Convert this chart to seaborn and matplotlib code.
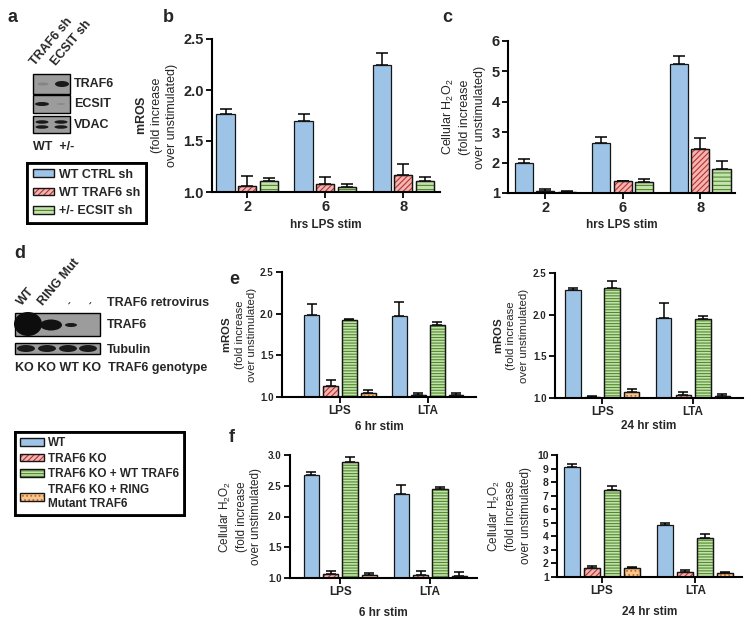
import matplotlib
matplotlib.use('Agg')
import matplotlib.pyplot as plt
import matplotlib.patches as mpatches
from matplotlib.legend_handler import HandlerTuple
import pandas as pd
import seaborn as sns

# ---- data ----
hrs = ['2', '6', '8']
sh_groups = ['WT CTRL sh', 'WT TRAF6 sh', '+/- ECSIT sh']
b_mean = [[1.76, 1.70, 2.25], [1.06, 1.08, 1.17], [1.11, 1.05, 1.11]]
b_err = [[0.05, 0.06, 0.11], [0.10, 0.07, 0.10], [0.03, 0.03, 0.04]]
c_mean = [[2.00, 2.65, 5.25], [1.07, 1.38, 2.45], [1.03, 1.35, 1.80]]
c_err = [[0.12, 0.18, 0.25], [0.05, 0.02, 0.35], [0.02, 0.10, 0.25]]

stims = ['LPS', 'LTA']
ko_groups = ['WT', 'TRAF6 KO', 'TRAF6 KO + WT TRAF6', 'TRAF6 KO + RING\nMutant TRAF6']
e6_mean = [[1.98, 1.97], [1.13, 1.03], [1.93, 1.87], [1.05, 1.02]]
e6_err = [[0.14, 0.17], [0.07, 0.02], [0.01, 0.03], [0.03, 0.03]]
e24_mean = [[2.30, 1.96], [1.01, 1.04], [2.32, 1.95], [1.07, 1.02]]
e24_err = [[0.02, 0.18], [0.02, 0.03], [0.08, 0.03], [0.04, 0.03]]
f6_mean = [[2.68, 2.36], [1.06, 1.05], [2.88, 2.44], [1.05, 1.04]]
f6_err = [[0.04, 0.15], [0.06, 0.06], [0.08, 0.04], [0.03, 0.05]]
f24_mean = [[9.15, 4.85], [1.70, 1.40], [7.45, 3.85], [1.65, 1.30]]
f24_err = [[0.20, 0.10], [0.10, 0.08], [0.25, 0.35], [0.08, 0.05]]

# (face, hatch colour, hatch)
blue = ('#9DC3E6', None, None)
red = ('#F2B5B2', '#B8312F', '//////')
green_b = ('#C5E2AE', '#4F8A2C', '----')
green_e = ('#C5E2AE', '#4F8A2C', '------')
orange = ('#F9C58E', '#B8702A', '....')
sh_styles = [blue, red, green_b]
ko_styles = [blue, red, green_e, orange]

sns.set_style('ticks')
plt.rcParams['font.family'] = ['Liberation Sans', 'DejaVu Sans']
plt.rcParams['mathtext.fontset'] = 'custom'
plt.rcParams['mathtext.rm'] = 'Liberation Sans'
plt.rcParams['mathtext.bf'] = 'Liberation Sans:bold'
plt.rcParams['mathtext.default'] = 'regular'
plt.rcParams['hatch.linewidth'] = 0.8

W, H = 750, 620
fig = plt.figure(figsize=(7.5, 6.2), dpi=100)

# background axes in pixel coordinates for blots and panel letters
bg = fig.add_axes([0, 0, 1, 1])
bg.set_xlim(0, W)
bg.set_ylim(H, 0)
bg.axis('off')


def px_axes(left, right, top, bottom):
    return fig.add_axes([left / W, 1 - bottom / H, (right - left) / W, (bottom - top) / H])


def bar_panel(ax, cats, groups, means, errs, styles, width, gap, ylim, yticks, fmt,
              ylabel, xlabel, xlim, tick_fs, xtick_fs, lab_fs, cap, xpad, ypad):
    rows = []
    for g, vals in zip(groups, means):
        for c, v in zip(cats, vals):
            rows.append({'cat': c, 'group': g, 'value': v})
    df = pd.DataFrame(rows)
    sns.barplot(data=df, x='cat', y='value', hue='group', order=cats, hue_order=groups,
                palette=[s[0] for s in styles], saturation=1, width=width, gap=gap,
                errorbar=None, edgecolor='#151515', linewidth=0.9, legend=False, ax=ax)
    for cont, err, (fc, hc, hatch) in zip(ax.containers, errs, styles):
        for bar, e in zip(cont, err):
            x0, w, h = bar.get_x(), bar.get_width(), bar.get_height()
            if hatch:
                ax.add_patch(mpatches.Rectangle((x0, 0), w, h, fill=False, hatch=hatch,
                                                edgecolor=hc, lw=0, zorder=1.1))
                ax.add_patch(mpatches.Rectangle((x0, 0), w, h, fill=False,
                                                edgecolor='#151515', lw=0.9, zorder=1.2))
            ax.errorbar(x0 + w / 2, h, yerr=[[0], [e]], fmt='none', ecolor='black',
                        elinewidth=1.1, capsize=cap, capthick=1.1, zorder=0.9)
    ax.set_ylim(*ylim)
    ax.set_xlim(*xlim)
    ax.set_yticks(yticks)
    ax.set_yticklabels([fmt.format(t) for t in yticks], fontsize=tick_fs, fontweight='bold')
    ax.set_xticks(range(len(cats)))
    ax.set_xticklabels(cats, fontsize=xtick_fs, fontweight='bold')
    ax.set_ylabel(ylabel, fontsize=lab_fs, linespacing=1.3, labelpad=ypad)
    ax.set_xlabel(xlabel, fontsize=8.5, fontweight='bold', labelpad=xpad)
    sns.despine(ax=ax)
    for s in ('left', 'bottom'):
        ax.spines[s].set_linewidth(1.5)
        ax.spines[s].set_color('black')
    ax.tick_params(width=1.3, length=4, color='black', pad=2)


mros = '$\\bf{mROS}$\n(fold increase\nover unstimulated)'
h2o2 = 'Cellular H$_2$O$_2$\n(fold increase\nover unstimulated)'

ax_b = px_axes(212, 440, 39, 192)
bar_panel(ax_b, hrs, sh_groups, b_mean, b_err, sh_styles, 0.83, 0.15, (1.0, 2.5),
          [1.0, 1.5, 2.0, 2.5], '{:.1f}', mros, 'hrs LPS stim', (-0.45, 2.47),
          10.5, 10.5, 9, 4, 3, 4)

ax_c = px_axes(508, 735, 41, 193)
bar_panel(ax_c, hrs, sh_groups, c_mean, c_err, sh_styles, 0.83, 0.15, (1, 6),
          [1, 2, 3, 4, 5, 6], '{:d}', h2o2, 'hrs LPS stim', (-0.48, 2.45),
          10.5, 10.5, 9, 4, 3, 4)

ax_e1 = px_axes(282, 476, 272, 397)
bar_panel(ax_e1, stims, ko_groups, e6_mean, e6_err, ko_styles, 0.86, 0.21, (1.0, 2.5),
          [1.0, 1.5, 2.0, 2.5], '{:.1f}', mros, '6 hr stim', (-0.66, 1.55),
          7, 8.5, 8.2, 3.5, 3, 2)

ax_e2 = px_axes(555, 743, 273, 398)
bar_panel(ax_e2, stims, ko_groups, e24_mean, e24_err, ko_styles, 0.86, 0.21, (1.0, 2.5),
          [1.0, 1.5, 2.0, 2.5], '{:.1f}', mros, '24 hr stim', (-0.52, 1.55),
          7, 8.5, 8.2, 3.5, 1, 3)

ax_f1 = px_axes(290, 477, 455, 578)
bar_panel(ax_f1, stims, ko_groups, f6_mean, f6_err, ko_styles, 0.86, 0.21, (1.0, 3.0),
          [1.0, 1.5, 2.0, 2.5, 3.0], '{:.1f}', h2o2, '6 hr stim', (-0.56, 1.52),
          7, 8.5, 8.5, 3.5, 6, 4)

ax_f2 = px_axes(557, 742, 455, 577)
bar_panel(ax_f2, stims, ko_groups, f24_mean, f24_err, ko_styles, 0.86, 0.21, (1, 10),
          list(range(1, 11)), '{:d}', h2o2, '24 hr stim', (-0.48, 1.50),
          7.5, 8.5, 8.5, 3.5, 6, 4)

# ---- legends ----
def handles(styles):
    out = []
    for fc, hc, hatch in styles:
        if hatch:
            out.append((mpatches.Patch(facecolor=fc, edgecolor=hc, hatch=hatch, lw=0),
                        mpatches.Patch(fill=False, edgecolor='#151515', lw=1)))
        else:
            out.append(mpatches.Patch(facecolor=fc, edgecolor='#151515', lw=1))
    return out


for labels, styles, anchor, fs, sp, hl in [
        (sh_groups, sh_styles, (27, 163), 9, 0.5, 1.75),
        (ko_groups, ko_styles, (15, 432), 8.5, 0.3, 2.0)]:
    leg = fig.legend(handles(styles), labels, loc='upper left',
                     bbox_to_anchor=(anchor[0] / W, 1 - anchor[1] / H), borderaxespad=0,
                     prop={'weight': 'bold', 'size': fs}, handlelength=hl, handleheight=0.6,
                     handletextpad=0.35, labelspacing=sp, borderpad=0.45, fancybox=False,
                     framealpha=1, edgecolor='black',
                     handler_map={tuple: HandlerTuple(ndivide=1)})
    leg.get_frame().set_linewidth(2)
    fig.add_artist(leg)

# ---- western blots (schematic) ----
def box(x, y, w, h):
    bg.add_patch(mpatches.Rectangle((x, y), w, h, fc='#9c9c9c', ec='black', lw=1))


def band(x, y, w, h, c='#1a1a1a'):
    bg.add_patch(mpatches.Ellipse((x, y), w, h, fc=c, ec='none'))


bold = dict(fontweight='bold', fontsize=9, va='center')
rot = dict(rotation_mode='anchor', ha='left', va='bottom', fontweight='bold', fontsize=9)
box(33, 74, 37, 20)
band(43, 84, 11, 3, '#858585')
band(62, 84, 14, 6)
box(33, 95, 37, 18)
band(42, 104, 14, 4)
band(61, 104, 8, 2, '#8a8a8a')
box(33, 116, 37, 17)
for x in (42, 61):
    for y in (122, 127):
        band(x, y, 13, 3.5)
bg.text(74, 84, 'TRAF6', **bold)
bg.text(74, 104, 'ECSIT', **bold)
bg.text(74, 125, 'VDAC', **bold)
bg.text(33, 147, 'WT  +/-', **bold)
bg.text(37, 68, 'TRAF6 sh', rotation=50, **rot)
bg.text(58, 68, 'ECSIT sh', rotation=50, **rot)

box(15, 313, 85, 23)
band(28, 324, 28, 24, '#0d0d0d')
band(51, 325, 22, 11, '#121212')
band(71, 325, 12, 4)
box(15, 343, 85, 11)
for x in (26, 47, 68, 88):
    band(x, 348.5, 18, 7)
bg.text(107, 303, 'TRAF6 retrovirus', **bold)
bg.text(107, 325, 'TRAF6', **bold)
bg.text(107, 350, 'Tubulin', **bold)
bg.text(15, 368, 'KO KO WT KO  TRAF6 genotype', **bold)
bg.text(24, 308, 'WT', rotation=50, **rot)
bg.text(45, 308, 'RING Mut', rotation=50, **rot)
bg.text(70, 303, '-', rotation=50, ha='center', fontweight='bold', fontsize=7, va='center')
bg.text(91, 303, '-', rotation=50, ha='center', fontweight='bold', fontsize=7, va='center')

# ---- panel letters ----
for letter, x, y in [('a', 12, 18), ('b', 168, 17), ('c', 447, 18), ('d', 20, 253),
                     ('e', 234, 280), ('f', 232, 437)]:
    bg.text(x, y, letter, fontsize=13, fontweight='bold', va='center', ha='center')

fig.savefig('out.png', dpi=100)
